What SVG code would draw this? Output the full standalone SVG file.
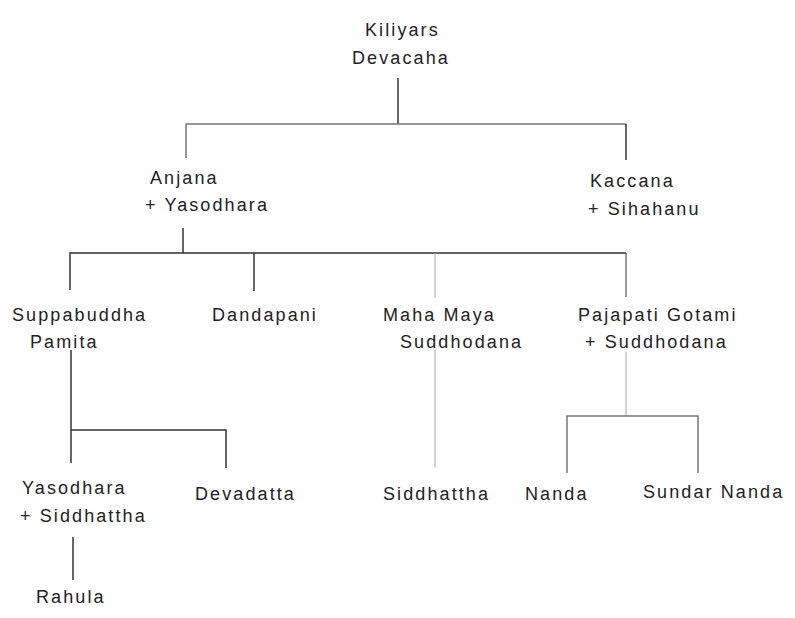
<svg xmlns="http://www.w3.org/2000/svg" width="795" height="618" viewBox="0 0 795 618">
<style>
text{font-family:"Liberation Sans",Arial,sans-serif;font-size:18px;fill:#222;letter-spacing:2.1px}
.d{stroke:#333;stroke-width:1.5;fill:none}
.g{stroke:#777;stroke-width:1.5;fill:none}
.l{stroke:#aaa;stroke-width:1;fill:none}
</style>
<rect width="795" height="618" fill="#fff"/>
<g id="connectors">
<path class="d" d="M398 78V124"/>
<path class="g" d="M186 158V124H626"/>
<path class="d" d="M626 124V160"/>
<path class="d" d="M183 228V253"/>
<path class="d" d="M70 290V253H626"/>
<path class="d" d="M254 253V291"/>
<path class="l" d="M435 253V298"/>
<path class="g" d="M626 253V297"/>
<path class="d" d="M71 350V463"/>
<path class="d" d="M71 430H226V468"/>
<path class="l" d="M435 350V467"/>
<path class="l" d="M626 352V416"/>
<path class="g" d="M567 473V416H698V473"/>
<path class="d" d="M73 537V580"/>
</g>
<g id="kiliyars"><text x="365" y="36">Kiliyars</text><text x="352" y="64">Devacaha</text></g>
<g id="anjana"><text x="150" y="184">Anjana</text><text x="145" y="211">+ Yasodhara</text></g>
<g id="kaccana"><text x="590" y="187">Kaccana</text><text x="588" y="215">+ Sihahanu</text></g>
<g id="suppabuddha"><text x="12" y="321">Suppabuddha</text><text x="30" y="348">Pamita</text></g>
<g id="dandapani"><text x="212" y="321">Dandapani</text></g>
<g id="mahamaya"><text x="383" y="321">Maha Maya</text><text x="400" y="348">Suddhodana</text></g>
<g id="pajapati"><text x="578" y="321">Pajapati Gotami</text><text x="585" y="348">+ Suddhodana</text></g>
<g id="yasodhara"><text x="22" y="494">Yasodhara</text><text x="20" y="522">+ Siddhattha</text></g>
<g id="devadatta"><text x="195" y="500">Devadatta</text></g>
<g id="siddhattha"><text x="383" y="500">Siddhattha</text></g>
<g id="nanda"><text x="525" y="500">Nanda</text></g>
<g id="sundarnanda"><text x="643" y="498">Sundar Nanda</text></g>
<g id="rahula"><text x="36" y="603">Rahula</text></g>
</svg>
